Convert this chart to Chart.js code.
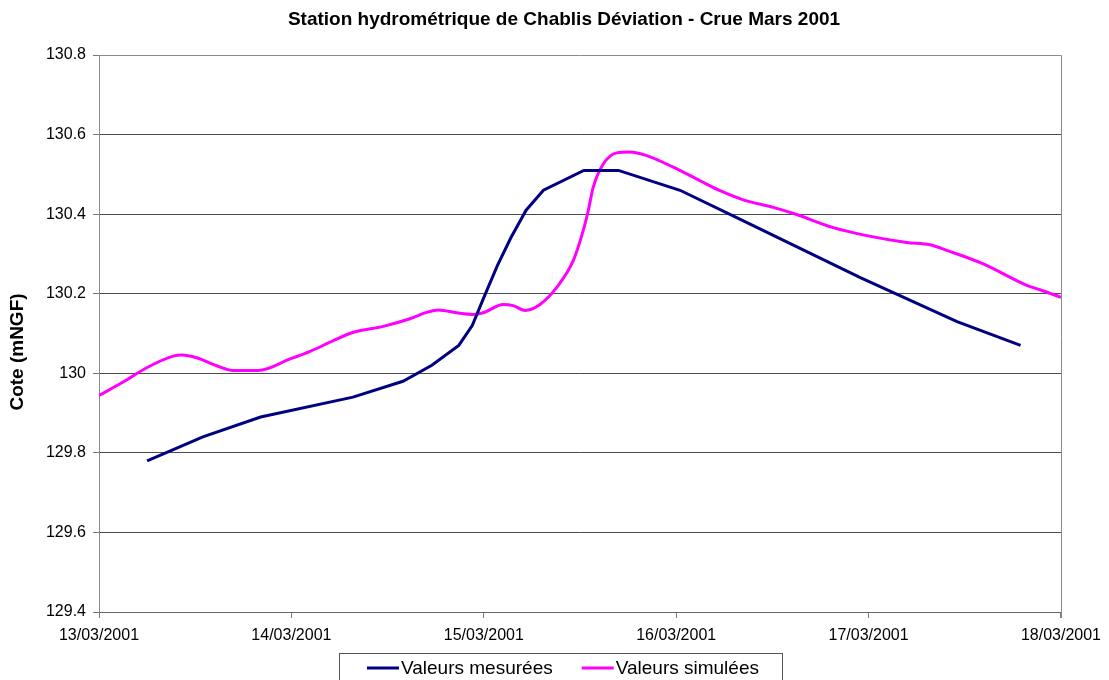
<!DOCTYPE html>
<html>
<head>
<meta charset="utf-8">
<script src="https://cdn.jsdelivr.net/npm/chart.js@4.4.1/dist/chart.umd.min.js"></script>
<style>
  html, body { margin: 0; padding: 0; background: #fff; }
  #c { display: block; }
</style>
</head>
<body>
<canvas id="c" width="1109" height="680"></canvas>
<script>
const chartTitle = 'Station hydrométrique de Chablis Déviation - Crue Mars 2001';
const yAxisTitle = 'Cote (mNGF)';
const seriesNames = ['Valeurs mesurées', 'Valeurs simulées'];
const xTickLabels = ['13/03/2001', '14/03/2001', '15/03/2001', '16/03/2001', '17/03/2001', '18/03/2001'];
const yTickLabels = ['129.4', '129.6', '129.8', '130', '130.2', '130.4', '130.6', '130.8'];

// Time in days counted from 13/03/2001 00:00
const measuredDays = [0.25, 0.54, 0.84, 1.32, 1.58, 1.73, 1.87, 1.94, 2.00, 2.07, 2.14, 2.22, 2.31, 2.52, 2.70, 3.02, 3.32, 3.96, 4.46, 4.79];
const measuredValues = [129.78, 129.84, 129.89, 129.94, 129.98, 130.02, 130.07, 130.12, 130.19, 130.27, 130.34, 130.41, 130.46, 130.51, 130.51, 130.46, 130.39, 130.24, 130.13, 130.07];

const simulatedDays = [0, 0.125, 0.248, 0.386, 0.43, 0.508, 0.612, 0.698, 0.828, 0.993, 1.097, 1.218, 1.322, 1.478, 1.616, 1.703, 1.764, 1.859, 1.945, 1.997, 2.101, 2.153, 2.214, 2.292, 2.379, 2.465, 2.517, 2.543, 2.569, 2.621, 2.691, 2.76, 2.847, 2.985, 3.124, 3.228, 3.349, 3.505, 3.626, 3.817, 3.99, 4.198, 4.319, 4.406, 4.596, 4.822, 4.891, 5.0];
const simulatedValues = [129.944, 129.978, 130.014, 130.043, 130.046, 130.039, 130.019, 130.007, 130.007, 130.036, 130.055, 130.082, 130.103, 130.118, 130.137, 130.153, 130.159, 130.152, 130.148, 130.152, 130.173, 130.170, 130.158, 130.173, 130.216, 130.283, 130.359, 130.409, 130.468, 130.526, 130.554, 130.556, 130.547, 130.518, 130.484, 130.459, 130.436, 130.417, 130.399, 130.366, 130.346, 130.329, 130.323, 130.309, 130.275, 130.221, 130.210, 130.191];

const seriesColors = ['#000080', '#ff00ff'];
const FONT = "'Liberation Sans', Arial, sans-serif";

const toPoints = (xs, ys) => xs.map((x, i) => ({ x, y: ys[i] }));

// Titles, plot frame and boxed legend drawn on top of the chart
const decorations = {
  id: 'decorations',
  beforeDatasetsDraw(chart) {
    const { ctx, chartArea: a } = chart;
    ctx.save();
    ctx.strokeStyle = '#8a8a8a';
    ctx.lineWidth = 1;
    ctx.beginPath();
    ctx.moveTo(a.left, Math.round(a.top) + 0.5);
    ctx.lineTo(Math.round(a.right) + 0.5, Math.round(a.top) + 0.5);
    ctx.lineTo(Math.round(a.right) + 0.5, Math.round(a.bottom) + 6);
    ctx.stroke();
    ctx.restore();
  },
  afterDraw(chart) {
    const { ctx } = chart;
    ctx.save();
    ctx.fillStyle = '#000';
    ctx.textBaseline = 'middle';

    // chart title
    ctx.font = `bold 19px ${FONT}`;
    ctx.textAlign = 'center';
    ctx.fillText(chartTitle, 564, 20);

    // vertical axis title
    ctx.save();
    ctx.translate(18, 352);
    ctx.rotate(-Math.PI / 2);
    ctx.fillText(yAxisTitle, 0, 0);
    ctx.restore();

    // legend
    ctx.font = `19px ${FONT}`;
    ctx.textAlign = 'left';
    const sample = 32, gapText = 2, gapItem = 29, padL = 28, padR = 23;
    const widths = chart.data.datasets.map(d => ctx.measureText(d.label).width);
    const inner = widths.reduce((s, w) => s + sample + gapText + w, 0) + gapItem * (widths.length - 1);
    const boxW = padL + inner + padR;
    const boxL = Math.round(560 - boxW / 2);
    const boxT = 653, cy = 668;
    ctx.strokeStyle = '#555';
    ctx.lineWidth = 1;
    ctx.strokeRect(boxL + 0.5, boxT + 0.5, Math.round(boxW), 60);
    let x = boxL + padL;
    chart.data.datasets.forEach((d, i) => {
      ctx.strokeStyle = d.borderColor;
      ctx.lineWidth = d.borderWidth;
      ctx.beginPath();
      ctx.moveTo(x, cy);
      ctx.lineTo(x + sample, cy);
      ctx.stroke();
      ctx.fillText(d.label, x + sample + gapText, cy + 1);
      x += sample + gapText + widths[i] + gapItem;
    });
    ctx.restore();
  }
};

new Chart(document.getElementById('c'), {
  type: 'line',
  data: {
    datasets: [
      {
        label: seriesNames[0],
        data: toPoints(measuredDays, measuredValues),
        borderColor: seriesColors[0],
        borderWidth: 3,
        pointRadius: 0,
        tension: 0,
        fill: false
      },
      {
        label: seriesNames[1],
        data: toPoints(simulatedDays, simulatedValues),
        borderColor: seriesColors[1],
        borderWidth: 3,
        pointRadius: 0,
        cubicInterpolationMode: 'monotone',
        fill: false
      }
    ]
  },
  options: {
    responsive: false,
    animation: false,
    layout: { padding: { left: 0, right: 48, top: 55, bottom: 0 } },
    plugins: {
      legend: { display: false },
      title: { display: false },
      tooltip: { enabled: false }
    },
    scales: {
      x: {
        type: 'linear',
        min: 0,
        max: 5,
        afterBuildTicks: s => { s.ticks = xTickLabels.map((_, i) => ({ value: i })); },
        afterFit: s => { s.height = 68; },
        ticks: {
          callback: (v, i) => xTickLabels[i],
          autoSkip: false,
          maxRotation: 0,
          color: '#000',
          padding: 8,
          font: { family: FONT, size: 16 }
        },
        grid: { drawOnChartArea: false, drawTicks: true, tickLength: 6, color: '#777' },
        border: { color: '#666', width: 1 }
      },
      y: {
        type: 'linear',
        min: 129.4,
        max: 130.8,
        afterBuildTicks: s => { s.ticks = yTickLabels.map(t => ({ value: parseFloat(t) })); },
        afterFit: s => { s.width = 99; },
        ticks: {
          callback: (v, i) => yTickLabels[i],
          color: '#000',
          padding: 7,
          font: { family: FONT, size: 16 }
        },
        grid: {
          color: c => (c.index === yTickLabels.length - 1 ? 'rgba(0,0,0,0)' : '#4a4a4a'),
          tickColor: '#777',
          tickLength: 6,
          lineWidth: 1
        },
        border: { color: '#888', width: 1 }
      }
    }
  },
  plugins: [decorations]
});
</script>
</body>
</html>
